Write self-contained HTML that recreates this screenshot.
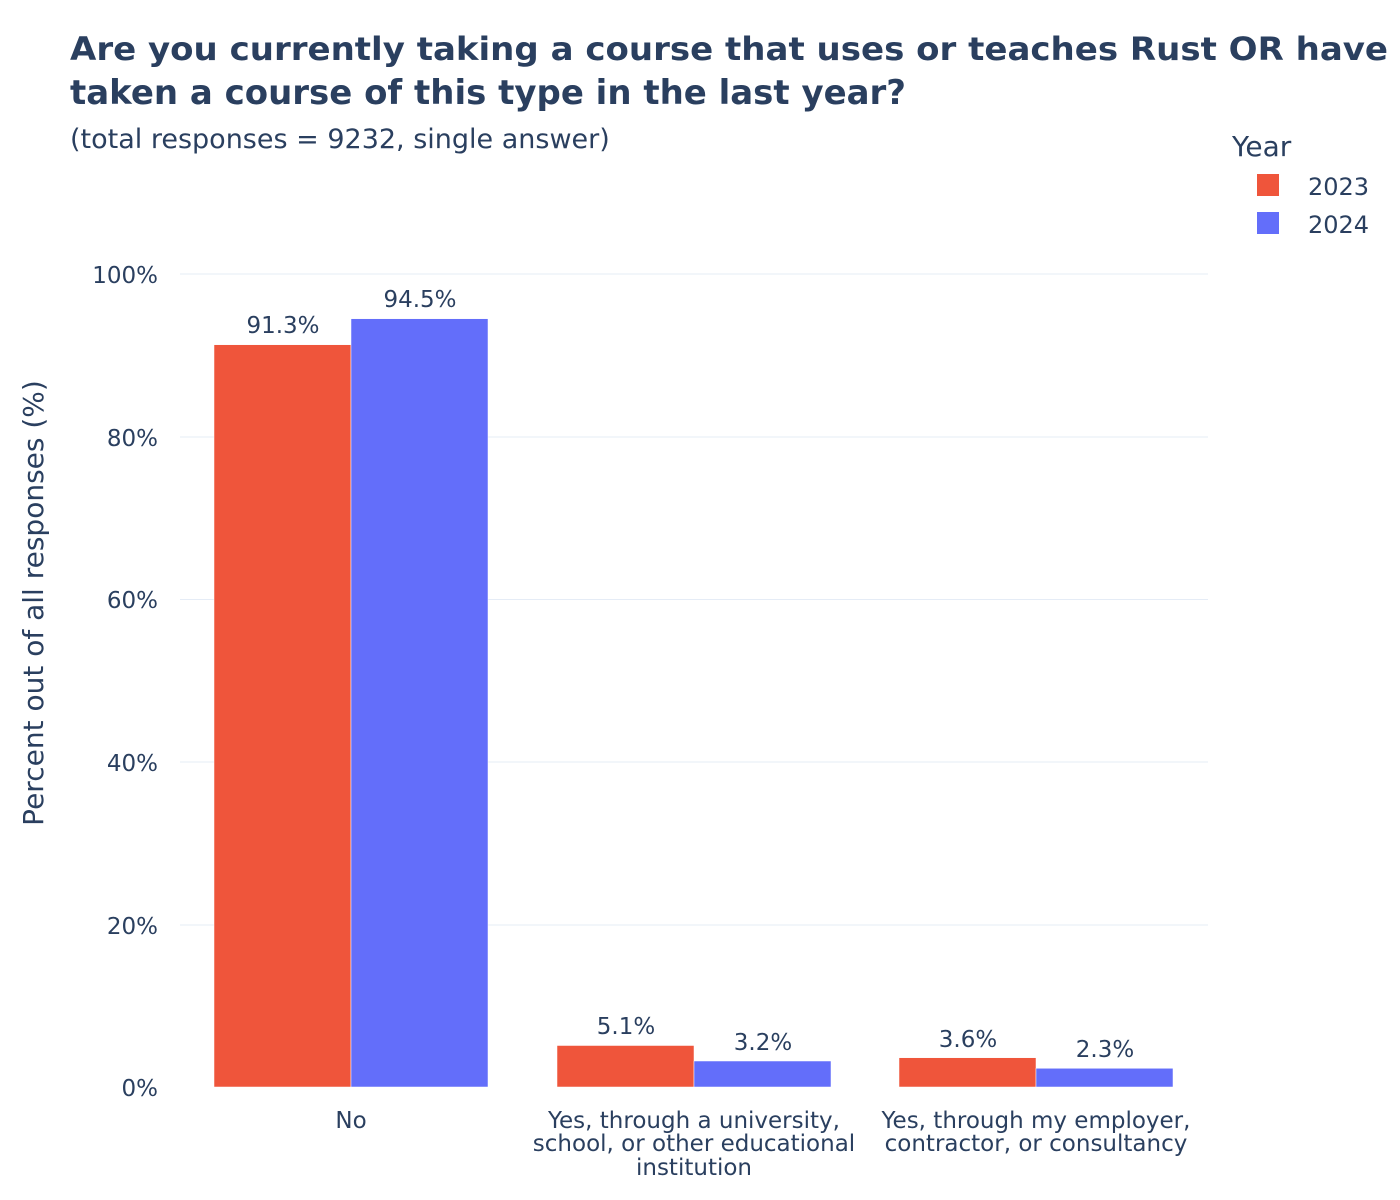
<!DOCTYPE html>
<html><head><meta charset="utf-8"><style>body{margin:0;background:#fff}svg{display:block}text{font-family:"DejaVu Sans","Liberation Sans",sans-serif;fill:#2a3f5f}</style></head>
<body>
<svg width="1400" height="1200" viewBox="0 0 1400 1200">
<rect width="1400" height="1200" fill="#fff"/>
<g stroke="#e5ecf6" stroke-width="1">
<line x1="180" x2="1208" y1="274" y2="274"/><line x1="180" x2="1208" y1="437" y2="437"/><line x1="180" x2="1208" y1="599.5" y2="599.5"/><line x1="180" x2="1208" y1="762" y2="762"/><line x1="180" x2="1208" y1="925" y2="925"/>
</g>
<g font-size="23" text-anchor="end">
<text x="158" y="283">100%</text><text x="158" y="446">80%</text><text x="158" y="608">60%</text><text x="158" y="771">40%</text><text x="158" y="934">20%</text><text x="158" y="1096">0%</text>
</g>
<g stroke="#fff" stroke-width="0.5">
<rect x="214" y="344.7" width="137" height="742.3" fill="#ef553b"/>
<rect x="351" y="318.7" width="137" height="768.3" fill="#636efa"/>
<rect x="557" y="1045.5" width="137" height="41.5" fill="#ef553b"/>
<rect x="694" y="1061" width="137" height="26" fill="#636efa"/>
<rect x="899" y="1057.7" width="137" height="29.3" fill="#ef553b"/>
<rect x="1036" y="1068.3" width="137" height="18.7" fill="#636efa"/>
</g>
<g font-size="23" text-anchor="middle">
<text x="283" y="333">91.3%</text><text x="420" y="307">94.5%</text>
<text x="626" y="1034">5.1%</text><text x="763" y="1050">3.2%</text>
<text x="968" y="1047">3.6%</text><text x="1105" y="1057">2.3%</text>
<text x="351" y="1128">No</text>
<text x="694" y="1128">Yes, through a university,</text><text x="694" y="1151">school, or other educational</text><text x="694" y="1175">institution</text>
<text x="1036" y="1128">Yes, through my employer,</text><text x="1036" y="1151">contractor, or consultancy</text>
</g>
<text transform="translate(43,603) rotate(-90)" font-size="28" text-anchor="middle">Percent out of all responses (%)</text>
<text x="70" y="60" font-size="32" font-weight="bold" textLength="1318" lengthAdjust="spacingAndGlyphs">Are you currently taking a course that uses or teaches Rust OR have</text>
<text x="70" y="104" font-size="34" font-weight="bold" textLength="836" lengthAdjust="spacingAndGlyphs">taken a course of this type in the last year?</text>
<text x="70" y="148" font-size="27">(total responses = 9232, single answer)</text>
<text x="1232" y="156" font-size="28">Year</text>
<rect x="1257" y="174" width="22" height="22" fill="#ef553b"/>
<text x="1308" y="195" font-size="24">2023</text>
<rect x="1257" y="212" width="22" height="22" fill="#636efa"/>
<text x="1308" y="233" font-size="24">2024</text>
</svg>
</body></html>
